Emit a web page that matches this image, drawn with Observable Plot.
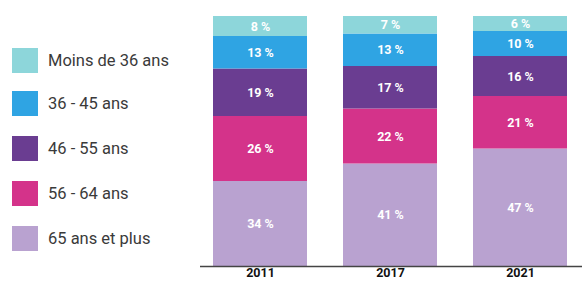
<!DOCTYPE html>
<html><head><meta charset="utf-8">
<script src="https://cdn.jsdelivr.net/npm/d3@7"></script>
<script src="https://cdn.jsdelivr.net/npm/@observablehq/plot@0.6"></script>
<style>
body{margin:0;background:#fff;}
#wrap{position:relative;width:582px;height:281px;overflow:hidden;font-family:Roboto,"Noto Sans",sans-serif;}
#legend{position:absolute;left:12px;top:0;}
.item{position:absolute;left:0;display:flex;align-items:center;white-space:nowrap;}
.sw{width:26px;height:25px;margin-right:10px;}
.lab{font-size:16.5px;color:#3a3a3a;}
#chart{position:absolute;left:0;top:0;}
</style></head>
<body><div id="wrap"><div id="chart"></div><div id="legend"></div></div>
<script>
const years = ["2011", "2017", "2021"];
const ages = ["Moins de 36 ans", "36 - 45 ans", "46 - 55 ans", "56 - 64 ans", "65 ans et plus"];
const colors = ["#8dd6da", "#2fa4e3", "#6a3d91", "#d4338a", "#b9a2d0"];
const vMoins36 = [8, 7, 6];
const v36_45 = [13, 13, 10];
const v46_55 = [19, 17, 16];
const v56_64 = [26, 22, 21];
const v65plus = [34, 41, 47];

const series = [vMoins36, v36_45, v46_55, v56_64, v65plus];
// stack from bottom: 65+ first
const data = [];
for (let a = ages.length - 1; a >= 0; a--) {
  years.forEach((y, i) => data.push({year: y, age: ages[a], value: series[a][i]}));
}

const plot = Plot.plot({
  width: 582, height: 281,
  marginLeft: 200, marginRight: 0, marginTop: 16, marginBottom: 15,
  style: {fontFamily: "Roboto, sans-serif", background: "transparent"},
  x: {domain: years, range: [213, 567], paddingInner: 0.28, paddingOuter: 0, label: null},
  y: {domain: [0, 100], axis: null},
  color: {domain: ages, range: colors},
  marks: [
    Plot.barY(data, Plot.stackY({x: "year", y: "value", fill: "age", order: ages.slice().reverse()})),
    Plot.text(data, Plot.stackY({x: "year", y: "value", z: "age", order: ages.slice().reverse(),
      text: d => d.value + " %", fill: "white", fontWeight: "bold", fontSize: 12.5})),
    Plot.ruleY([0], {stroke: "#444", strokeWidth: 1.5}),
    Plot.axisX({tickSize: 0, tickPadding: 2, fontSize: 12.5, fontWeight: "bold", fill: "#111", label: null})
  ]
});
document.getElementById("chart").appendChild(plot);

const col = plot.scale("color");
const leg = document.getElementById("legend");
const centers = [60, 103, 148, 193, 238];
ages.forEach((a, i) => {
  const it = document.createElement("div");
  it.className = "item";
  it.style.top = (centers[i] - 12.5) + "px";
  it.innerHTML = `<div class="sw" style="background:${col.apply(a)}"></div><span class="lab">${a}</span>`;
  leg.appendChild(it);
});
</script></body></html>
